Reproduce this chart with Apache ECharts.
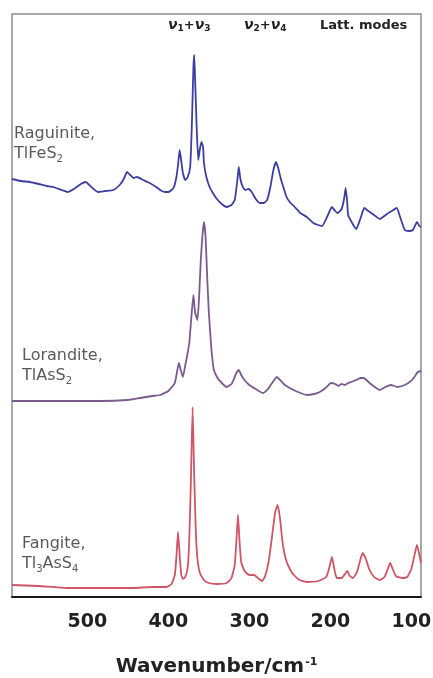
<!DOCTYPE html>
<html>
<head>
<meta charset="utf-8">
<script src="https://cdn.jsdelivr.net/npm/echarts@6/dist/echarts.min.js"></script>
<style>
  html, body { margin: 0; padding: 0; background: #fff; }
  #chart { width: 433px; height: 678px; }
</style>
</head>
<body>
<div id="chart"></div>
<script>
// Raman spectra, stacked with vertical offsets (arbitrary intensity units).
// Each point: [wavenumber / cm^-1, offset intensity]

const raguinite = [
  [593,418],[582,416],[571,415],[560,413],[550,411],[542,410],[532,407],[524,405],[515,409],[508,413],
  [502,415],[495,410],[487,405],[478,406],[468,407],[460,412],[455,418],[451,425],[447,422],[443,419],
  [439,420],[431,417],[423,414],[415,410],[408,406],[404,405],[400,405],[396,407],[393,410],[390,420],
  [388,432],[386,447],[384,436],[382,424],[379,417],[376,420],[373,430],[371,470],[369,530],[368,542],
  [367,520],[365,470],[363,437],[361,448],[359,455],[357,450],[356,434],[353,420],[349,410],[345,404],
  [340,398],[334,393],[328,390],[322,392],[318,397],[315,415],[313,430],[311,418],[308,410],[305,407],
  [301,408],[297,405],[292,398],[287,394],[282,394],[278,397],[274,410],[270,428],[267,435],[264,428],
  [261,418],[258,410],[254,400],[250,395],[244,390],[237,384],[229,380],[221,374],[215,372],[210,371],
  [204,380],[198,390],[194,386],[191,384],[186,388],[183,398],[181,409],[179,394],[178,382],[173,374],
  [168,368],[163,378],[158,389],[153,386],[146,382],[139,378],[130,383],[124,386],[118,389],[113,378],
  [108,367],[103,366],[98,367],[95,372],[93,375],[90,371],[88,370]
];

const lorandite = [
  [593,196],[540,196],[484,196],[450,197],[435,199],[420,201],[410,202],[400,206],[392,214],[389,226],
  [387,234],[385,228],[382,220],[379,232],[377,240],[374,255],[372,275],[369,302],[367,285],[364,277],
  [362,300],[360,335],[358,360],[356,375],[354,360],[352,320],[350,285],[347,250],[344,228],[340,220],
  [334,214],[328,210],[322,213],[319,218],[316,224],[313,227],[310,222],[306,217],[300,212],[292,208],
  [283,204],[277,208],[271,215],[266,220],[262,217],[256,212],[250,209],[240,205],[229,202],[220,203],
  [213,205],[206,209],[199,214],[194,213],[190,211],[186,213],[182,212],[178,214],[174,215],[168,217],
  [163,219],[159,219],[150,213],[139,207],[132,210],[125,212],[117,210],[108,212],[102,215],[97,219],
  [92,225],[88,226]
];

const fangite = [
  [593,12],[560,11],[525,9],[480,9],[444,9],[420,10],[402,10],[396,13],[392,22],[390,40],
  [388,65],[386,42],[384,22],[382,18],[379,20],[376,30],[374,60],[372,120],[370,190],[368,120],
  [366,65],[364,38],[361,24],[356,17],[350,14],[340,13],[328,14],[322,19],[318,32],[316,55],
  [314,82],[312,55],[310,35],[306,26],[300,22],[294,22],[288,18],[284,16],[280,22],[276,36],
  [272,60],[268,85],[265,92],[262,78],[259,55],[255,38],[250,28],[245,22],[238,17],[229,15],
  [215,16],[205,20],[201,30],[198,40],[195,28],[192,19],[186,19],[181,24],[179,26],[176,21],
  [172,19],[167,25],[163,37],[160,44],[156,38],[152,28],[146,20],[139,17],[133,20],[129,28],
  [126,34],[123,28],[119,21],[112,19],[105,20],[100,28],[96,42],[93,52],[90,42],[88,34]
];

const xTicks = [100, 200, 300, 400, 500];
const xRange = [88, 593];

const FONT = "'DejaVu Sans', 'Liberation Sans', sans-serif";
const chart = echarts.init(document.getElementById('chart'), null, { renderer: 'canvas' });

// Mineral name + formula, with subscripted stoichiometry
const mineralRich = {
  n: { fontFamily: FONT, fontSize: 16, color: '#5a5a5a', lineHeight: 20 },
  sub: { fontFamily: FONT, fontSize: 10, color: '#5a5a5a', lineHeight: 14, verticalAlign: 'bottom', padding: [8, 0, 0, 0] }
};

function mineralLabel(x, y, text) {
  return { type: 'text', x: x, y: y, style: { text: text, rich: mineralRich, fill: '#5a5a5a' } };
}

// Band-assignment headings along the top of the plot
const bandRich = {
  nu: { fontFamily: FONT, fontSize: 14, fontWeight: 'bold', fontStyle: 'italic', color: '#222' },
  s: { fontFamily: FONT, fontSize: 9, fontWeight: 'bold', color: '#222', padding: [6, 0, 0, 0] },
  p: { fontFamily: FONT, fontSize: 13, fontWeight: 'bold', color: '#222' },
  t: { fontFamily: FONT, fontSize: 13, fontWeight: 'bold', color: '#222' }
};

function bandText(x, y, text) {
  return { type: 'text', x: x, y: y, style: { text: text, rich: bandRich, fill: '#222' } };
}

const option = {
  animation: false,
  backgroundColor: '#fff',
  grid: {
    left: 12, right: 12, top: 14, bottom: 81,
    outerBoundsMode: 'none',
    containLabel: false,
    show: true, borderColor: '#8c8c8c', borderWidth: 1.5, backgroundColor: 'transparent'
  },
  xAxis: {
    type: 'value',
    inverse: true,
    min: xRange[0],
    max: xRange[1],
    axisLine: { show: true, lineStyle: { color: '#1a1a1a', width: 2 } },
    axisTick: { show: false },
    splitLine: { show: false },
    axisLabel: {
      customValues: xTicks,
      margin: 16,
      fontFamily: FONT,
      fontSize: 19,
      fontWeight: 'bold',
      color: '#222'
    },
    name: '{m|Wavenumber/cm}{sup|-1}',
    nameLocation: 'middle',
    nameGap: 60,
    nameTextStyle: {
      rich: {
        m: { fontFamily: FONT, fontSize: 20, fontWeight: 'bold', color: '#222' },
        sup: { fontFamily: FONT, fontSize: 11, fontWeight: 'bold', color: '#222', verticalAlign: 'top', padding: [0, 0, 8, 1] }
      }
    }
  },
  yAxis: {
    type: 'value',
    min: 0,
    max: 583,
    show: false,
    splitLine: { show: false }
  },
  series: [
    { name: 'Raguinite', type: 'line', data: raguinite, showSymbol: false, smooth: 0.15,
      lineStyle: { color: '#3d3fa0', width: 1.8 } },
    { name: 'Lorandite', type: 'line', data: lorandite, showSymbol: false, smooth: 0.15,
      lineStyle: { color: '#7b5b8e', width: 1.8 } },
    { name: 'Fangite', type: 'line', data: fangite, showSymbol: false, smooth: 0.15,
      lineStyle: { color: '#cf5567', width: 1.8 } }
  ],
  graphic: [
    mineralLabel(14, 124, '{n|Raguinite,}\n{n|TlFeS}{sub|2}'),
    mineralLabel(22, 346, '{n|Lorandite,}\n{n|TlAsS}{sub|2}'),
    mineralLabel(22, 534, '{n|Fangite,}\n{n|Tl}{sub|3}{n|AsS}{sub|4}'),
    bandText(168, 18, '{nu|ν}{s|1}{p|+}{nu|ν}{s|3}'),
    bandText(244, 18, '{nu|ν}{s|2}{p|+}{nu|ν}{s|4}'),
    bandText(320, 19, '{t|Latt. modes}')
  ]
};

chart.setOption(option);
</script>
</body>
</html>
